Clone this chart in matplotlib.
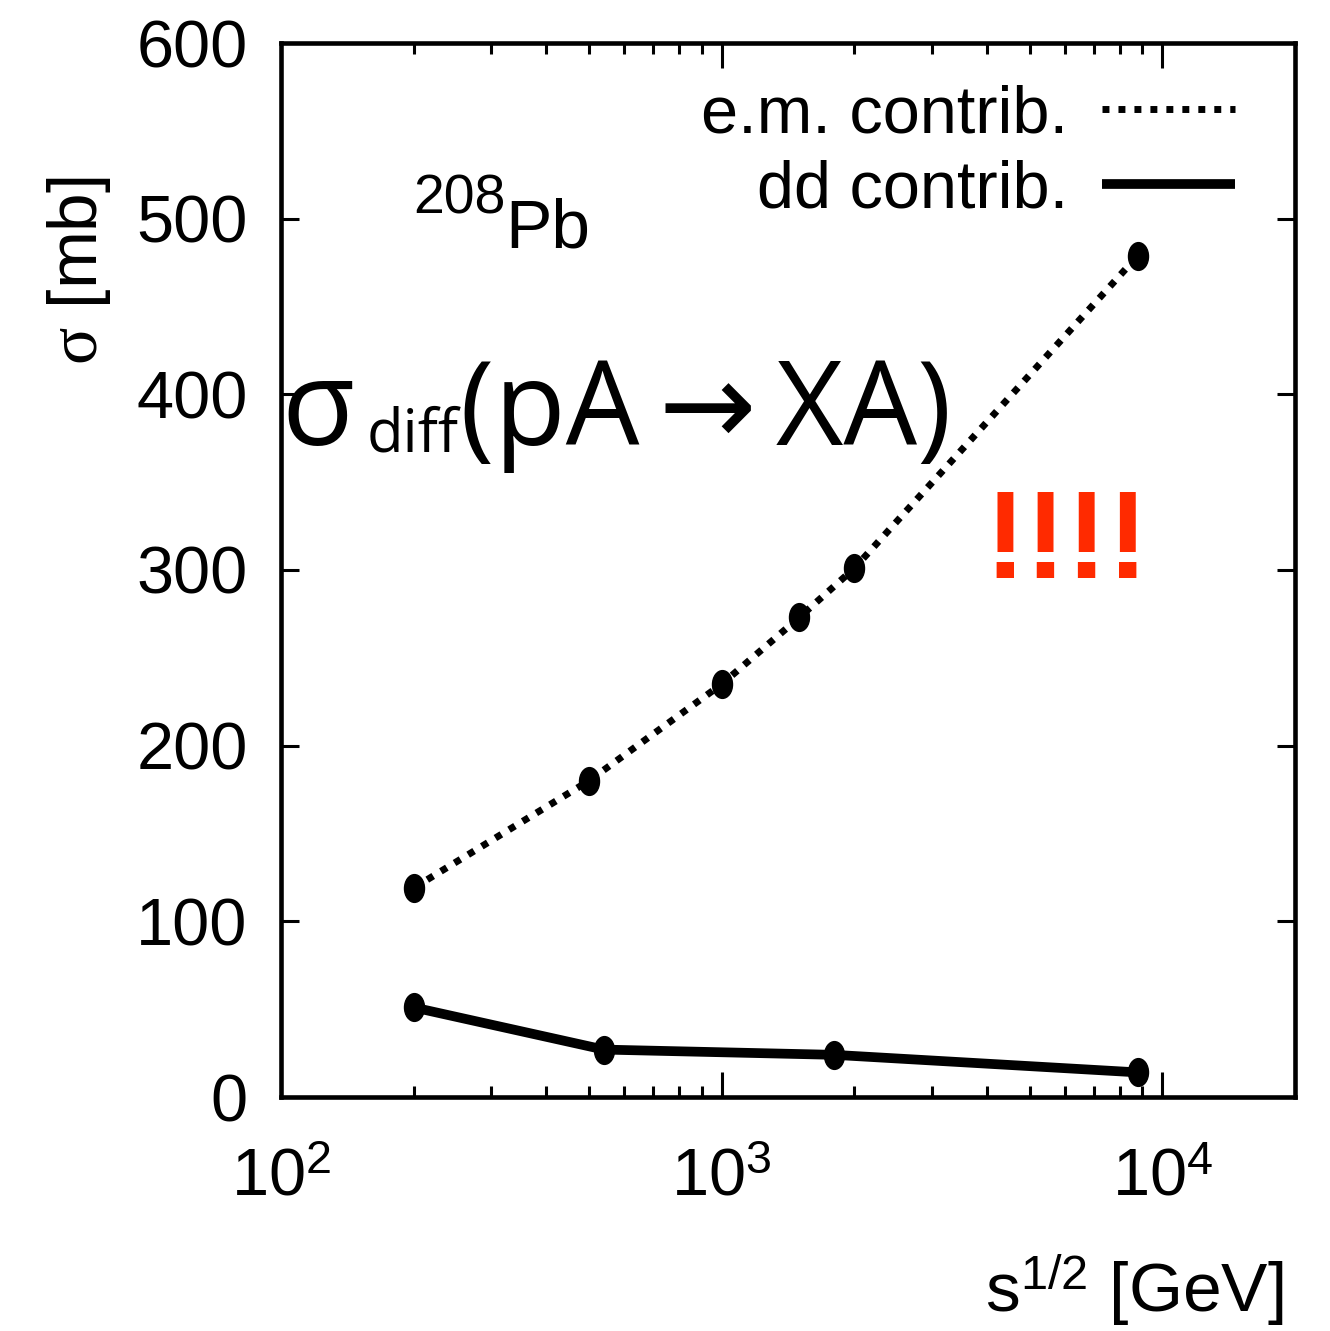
import matplotlib
matplotlib.use('Agg')
import matplotlib.pyplot as plt
from matplotlib import font_manager as fm
from matplotlib.path import Path
from matplotlib.transforms import Affine2D
from matplotlib.ticker import LogLocator, NullFormatter

# narrowest Helvetica-like face that is available
names = {f.name for f in fm.fontManager.ttflist}
if 'Liberation Sans Narrow' in names:
    narrow_name = 'Liberation Sans Narrow'
else:
    narrow_name = 'Liberation Sans'
narrow = [narrow_name, 'DejaVu Sans']
big = ['Open Sans', 'DejaVu Sans']
plt.rcParams['font.family'] = narrow
plt.rcParams['mathtext.fontset'] = 'custom'
plt.rcParams['mathtext.rm'] = narrow_name
plt.rcParams['mathtext.it'] = 'Liberation Serif'

# data
em_sqrt_s = [200, 500, 1000, 1500, 2000, 8800]
em_sigma = [119, 180, 235, 273, 301, 479]
dd_sqrt_s = [200, 540, 1800, 8800]
dd_sigma = [51, 27, 24, 14]

xticks = [1e2, 1e3, 1e4]
xtick_labels = [r'$10^{2}$', r'$10^{3}$', r'$10^{4}$']
yticks = [0, 100, 200, 300, 400, 500, 600]

W, H = 1330, 1331
ellipse = Path.unit_circle().transformed(Affine2D().scale(0.72, 1.0))

fig = plt.figure(figsize=(W / 100, H / 100), dpi=100)
ax = fig.add_axes([281 / W, 1 - 1097 / H, (1295 - 281) / W, (1097 - 43) / H])

ax.plot(em_sqrt_s, em_sigma, color='k', lw=5, linestyle=(0, (1, 1.3)),
        dash_capstyle='butt', label='e.m. contrib.')
ax.plot(dd_sqrt_s, dd_sigma, color='k', lw=7, solid_capstyle='butt',
        label='dd contrib.')
ax.plot(em_sqrt_s, em_sigma, ls='none', marker=ellipse, ms=20, color='k')
ax.plot(dd_sqrt_s, dd_sigma, ls='none', marker=ellipse, ms=20, color='k')

ax.set_xscale('log')
ax.set_xlim(100, 2e4)
ax.set_ylim(0, 600)
ax.set_xticks(xticks)
ax.set_xticklabels(xtick_labels)
ax.xaxis.set_minor_locator(LogLocator(base=10, subs=range(2, 10)))
ax.xaxis.set_minor_formatter(NullFormatter())
ax.set_yticks(yticks)

for s in ax.spines.values():
    s.set_linewidth(3.3)
ax.tick_params(which='both', direction='in', top=True, right=True, width=2.2,
               labelsize=48)
ax.tick_params(axis='x', which='major', length=18, pad=36)
ax.tick_params(axis='x', which='minor', length=8)
ax.tick_params(axis='y', which='major', length=13, pad=24)

ax.legend(loc='upper right', bbox_to_anchor=(1, 1.018), frameon=False,
          markerfirst=False, fontsize=48, handlelength=2.0,
          handletextpad=0.5, labelspacing=0.2, borderaxespad=0.5)

fig.text(79 / W, 1 - 271 / H, r'$\sigma$ [mb]', rotation=90, fontsize=50,
         ha='center', va='center')
fig.text(1283 / W, 1 - 1312 / H, r's$^{1/2}$ [GeV]', fontsize=50,
         ha='right', va='baseline')

fig.canvas.draw()
r = fig.canvas.get_renderer()

# 208Pb, the mass number sits up and to the left of the symbol
t = fig.text(413 / W, 1 - 213 / H, '208', fontsize=40, va='baseline')
x = t.get_window_extent(r).x1
fig.text(x / W, 1 - 247 / H, 'Pb', fontsize=50, va='baseline')

# red exclamation marks
fig.text(984 / W, 1 - 578 / H, '!!!!', color='#ff2a00', fontsize=89,
         fontweight='bold', va='baseline')

# big formula, pieces chained left to right
base = 1 - 445 / H
t1 = fig.text(281 / W, base, 'σ', fontsize=86, family=big, va='baseline')
x1 = t1.get_window_extent(r).x1 + 12
t2 = fig.text(x1 / W, 1 - 452 / H, 'diff', fontsize=43, family=big,
              va='baseline')
x2 = t2.get_window_extent(r).x1 + 2
fig.text(x2 / W, base, '(pA\u2009\u2192\u2009XA)', fontsize=84, family=big,
         va='baseline')

fig.savefig('out.png', dpi=100)
